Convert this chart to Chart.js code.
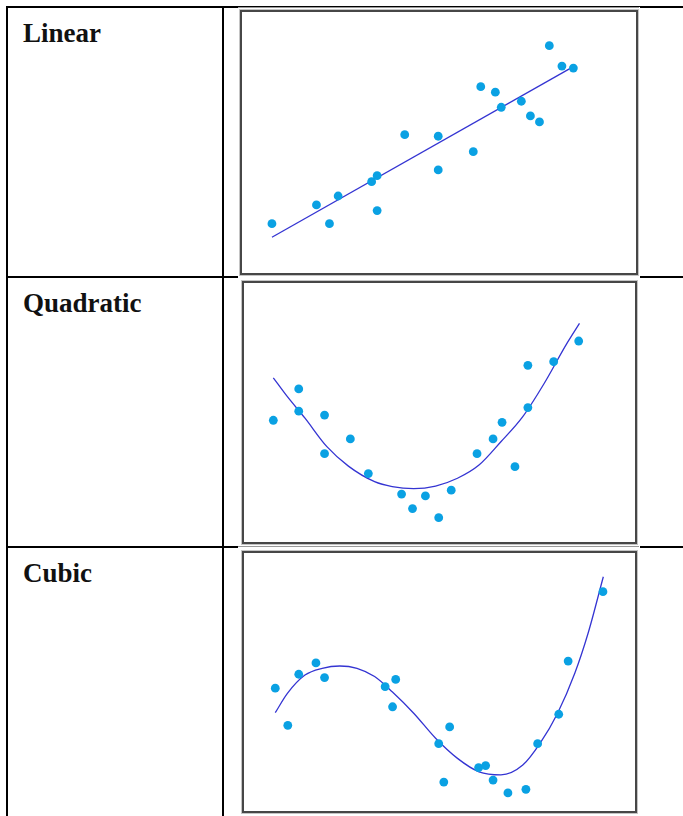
<!DOCTYPE html>
<html>
<head>
<meta charset="utf-8">
<script src="https://cdn.jsdelivr.net/npm/chart.js@4.4.1/dist/chart.umd.min.js"></script>
<style>
  html, body { margin: 0; padding: 0; background: #fff; overflow: hidden; }
  body { width: 683px; height: 816px; position: relative; }
  .rule { position: absolute; background: #000; }
  .label {
    position: absolute; left: 23px;
    font: bold 27px "Liberation Serif", serif; line-height: 27px;
    color: #111;
  }
  .cover { position: absolute; left: 238px; width: 402px; top: 7px; height: 809px; background: #fff; }
  .thin { position: absolute; left: 238px; width: 401px; height: 1px; background: #9a9a9a; }
  .plotbox {
    position: absolute; box-sizing: border-box;
    border: 2px solid #474747; outline: 1px solid #c4c4c4;
    background: #fff;
  }
  .plotbox canvas { display: block; }
</style>
</head>
<body>
  <!-- table rules -->
  <div class="rule" style="left:6px; top:6px; width:677px; height:2px"></div>
  <div class="rule" style="left:6px; top:276px; width:677px; height:2px"></div>
  <div class="rule" style="left:6px; top:546px; width:677px; height:2px"></div>
  <div class="rule" style="left:6px; top:6px; width:2px; height:810px"></div>
  <div class="rule" style="left:222px; top:6px; width:2px; height:810px"></div>

  <div class="cover"></div>
  <div class="thin" style="top:7px"></div>
  <div class="thin" style="top:546px"></div>

  <div class="label" id="label0" style="top:20px"></div>
  <div class="label" id="label1" style="top:290px"></div>
  <div class="label" id="label2" style="top:560px"></div>

  <div class="plotbox" style="left:240px; top:10px; width:398px; height:265px">
    <canvas id="linearChart" width="394" height="261"></canvas>
  </div>
  <div class="plotbox" style="left:242px; top:281px; width:395px; height:263px">
    <canvas id="quadChart" width="391" height="259"></canvas>
  </div>
  <div class="plotbox" style="left:242px; top:551px; width:395px; height:262px">
    <canvas id="cubicChart" width="391" height="258"></canvas>
  </div>

<script>
// row titles
const rowLabels = ['Linear', 'Quadratic', 'Cubic'];

// linear: samples + fitted line
const linearX = [0.76, 1.89, 2.22, 2.44, 3.29, 3.43, 3.43, 4.13, 4.98, 4.98, 5.87, 6.06, 6.43, 6.58, 7.09, 7.32, 7.55, 7.80, 8.12, 8.41];
const linearY = [1.89, 2.61, 1.89, 2.95, 3.50, 3.73, 2.39, 5.30, 5.24, 3.95, 4.65, 7.14, 6.93, 6.35, 6.58, 6.02, 5.79, 8.71, 7.93, 7.85];
const linearFitX = [0.76, 8.32];
const linearFitY = [1.37, 7.83];

// quadratic
const quadX = [0.75, 1.40, 1.40, 2.06, 2.06, 2.72, 3.18, 4.03, 4.31, 4.64, 4.98, 5.30, 5.96, 6.37, 6.60, 6.93, 7.26, 7.26, 7.92, 8.56];
const quadY = [4.70, 5.91, 5.05, 4.90, 3.41, 3.98, 2.64, 1.85, 1.29, 1.78, 0.94, 2.00, 3.41, 3.98, 4.62, 2.91, 5.19, 6.82, 6.96, 7.76];
const quadFitX = [0.75, 1.11, 1.56, 2.12, 2.67, 3.34, 3.79, 4.34, 4.90, 5.46, 6.01, 6.57, 7.13, 7.68, 8.24, 8.58];
const quadFitY = [6.34, 5.61, 4.78, 3.68, 2.93, 2.33, 2.14, 2.06, 2.16, 2.46, 2.97, 3.87, 4.84, 6.13, 7.62, 8.44];

// cubic
const cubicX = [0.80, 1.12, 1.40, 1.84, 2.06, 3.61, 3.88, 3.80, 4.98, 5.26, 5.11, 6.00, 6.18, 6.37, 6.75, 7.21, 7.51, 8.05, 8.29, 9.18];
const cubicY = [4.76, 3.32, 5.30, 5.74, 5.17, 4.82, 5.10, 4.04, 2.61, 3.26, 1.12, 1.68, 1.76, 1.20, 0.70, 0.84, 2.61, 3.75, 5.81, 8.50];
const cubicFitX = [0.80, 1.11, 1.56, 2.00, 2.45, 2.89, 3.34, 3.79, 4.34, 4.90, 5.46, 6.01, 6.57, 7.13, 7.57, 8.02, 8.46, 8.80, 9.19];
const cubicFitY = [3.81, 4.56, 5.27, 5.53, 5.62, 5.53, 5.21, 4.62, 3.79, 2.82, 2.04, 1.52, 1.40, 1.78, 2.62, 3.79, 5.34, 6.89, 9.08];

const dotColor = '#0aa1e3';
const fitColor = '#3434d2';

function toPoints(xs, ys) {
    return xs.map((x, i) => ({ x: x, y: ys[i] }));
}

// scatter + fit curve, axes hidden so the plot fills the box
function drawFit(canvasId, xs, ys, fitXs, fitYs) {
    const ctx = document.getElementById(canvasId);
    if (!ctx) return null;

    return new Chart(ctx.getContext('2d'), {
        type: 'scatter',
        data: {
            datasets: [
                {
                    label: 'data',
                    data: toPoints(xs, ys),
                    backgroundColor: dotColor,
                    borderWidth: 0,
                    pointRadius: 4.4,
                    order: 1
                },
                {
                    label: 'fit',
                    data: toPoints(fitXs, fitYs),
                    showLine: true,
                    borderColor: fitColor,
                    borderWidth: 1.3,
                    pointRadius: 0,
                    cubicInterpolationMode: 'monotone',
                    fill: false,
                    order: 2
                }
            ]
        },
        options: {
            responsive: false,
            animation: false,
            devicePixelRatio: 1,
            layout: { padding: 0, autoPadding: false },
            plugins: { legend: { display: false }, tooltip: { enabled: false } },
            scales: {
                x: { type: 'linear', min: 0, max: 10, display: false },
                y: { type: 'linear', min: 0, max: 10, display: false }
            }
        }
    });
}

rowLabels.forEach((t, i) => {
    document.getElementById('label' + i).textContent = t;
});

drawFit('linearChart', linearX, linearY, linearFitX, linearFitY);
drawFit('quadChart', quadX, quadY, quadFitX, quadFitY);
drawFit('cubicChart', cubicX, cubicY, cubicFitX, cubicFitY);
</script>
</body>
</html>
